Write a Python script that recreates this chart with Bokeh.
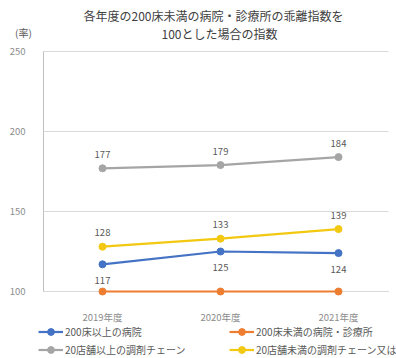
from bokeh.plotting import figure
from bokeh.models import (Range1d, FixedTicker, Label, Legend, LegendItem, ColumnDataSource)
from bokeh.core.properties import value
from bokeh.embed import file_html
from bokeh.resources import INLINE

years = ["2019年度", "2020年度", "2021年度"]
series_names = ["200床以上の病院", "200床未満の病院・診療所",
                "20店舗以上の調剤チェーン", "20店舗未満の調剤チェーン又は個店"]
large_hospitals = [117, 125, 124]
small_hospitals = [100, 100, 100]
large_chains = [177, 179, 184]
small_chains = [128, 133, 139]
y_ticks = [100, 150, 200, 250]
title_lines = ["各年度の200床未満の病院・診療所の乖離指数を", "100とした場合の指数"]
unit_label = "(率)"

FONT = "Noto Sans CJK JP"
colors = ["#4472C4", "#ED7D31", "#A5A5A5", "#F2C811"]
series = [large_hospitals, small_hospitals, large_chains, small_chains]
# label placement: None = no labels, -1 above, +1 below
label_pos = [1, None, -1, -1]

xs = list(range(len(years)))
x_lo, x_hi = -0.5, 2.42     # plot-area extent in x
y_lo, y_hi = 100, 250       # plot-area extent in y

# the frame covers the whole canvas; axes are pinned at the plot-area edges
p = figure(width=396, height=358, output_backend="svg", toolbar_location=None,
           x_range=Range1d(-0.8644, 2.4915), y_range=Range1d(58.125, 281.875),
           min_border=0)
p.outline_line_color = None
p.background_fill_color = "white"
p.border_fill_color = "white"

p.xgrid.grid_line_color = None
yg = p.ygrid[0]
yg.grid_line_color = "#D9D9D9"
yg.ticker = FixedTicker(ticks=y_ticks)
if "cross_bounds" in yg.properties():
    yg.cross_bounds = (x_lo, x_hi)

p.yaxis.ticker = FixedTicker(ticks=y_ticks)
p.yaxis.bounds = (y_lo, y_hi)
p.yaxis.fixed_location = x_lo
p.xaxis.ticker = FixedTicker(ticks=xs)
p.xaxis.bounds = (x_lo, x_hi)
p.xaxis.fixed_location = y_lo
p.xaxis.major_label_overrides = {i: y for i, y in enumerate(years)}
for ax in (p.xaxis, p.yaxis):
    ax.axis_line_color = "#BFBFBF"
    ax.major_tick_line_color = None
    ax.minor_tick_line_color = None
    ax.major_label_text_font = FONT
    ax.major_label_text_font_size = "9.5px"
    ax.major_label_text_color = "#8C8C8C"
    ax.level = "underlay"
p.yaxis.major_label_standoff = 12
p.xaxis.major_label_standoff = 12

items = []
for name, vals, c, lp in zip(series_names, series, colors, label_pos):
    src = ColumnDataSource(dict(x=xs, y=vals, t=[str(v) for v in vals]))
    r1 = p.line("x", "y", source=src, line_color=c, line_width=2.2)
    r2 = p.scatter("x", "y", source=src, size=7, fill_color=c, line_color=c)
    items.append(LegendItem(label=name, renderers=[r1, r2]))
    if lp is not None:
        p.text("x", "y", text="t", source=src, text_align="center", text_baseline="middle",
               y_offset=(16 if lp > 0 else -14), text_font=value(FONT),
               text_font_size="9.5px", text_color="#595959")

# legend fills column by column: reorder so the rows read like the reference
legend = Legend(items=[items[0], items[2], items[1], items[3]], ncols=2, location=(38, 0),
                glyph_width=25, glyph_height=17, label_height=17, label_width=163,
                label_standoff=2, spacing=1, padding=0, margin=0,
                border_line_color=None, background_fill_alpha=0,
                label_text_font=FONT, label_text_font_size="10px",
                label_text_color="#595959")
p.add_layout(legend, "center")

t1 = Label(x=213, y=343, x_units="screen", y_units="screen", text=title_lines[0],
           text_align="center", text_baseline="middle", text_font=FONT,
           text_font_size="12px", text_color="#404040")
t2 = Label(x=219, y=325, x_units="screen", y_units="screen", text=title_lines[1],
           text_align="center", text_baseline="middle", text_font=FONT,
           text_font_size="12px", text_color="#404040")
u = Label(x=23, y=326, x_units="screen", y_units="screen", text=unit_label,
          text_align="center", text_baseline="middle", text_font=FONT,
          text_font_size="10px", text_color="#595959")
for a in (t1, t2, u):
    p.add_layout(a)

open("out.html", "w").write(file_html(p, INLINE))
